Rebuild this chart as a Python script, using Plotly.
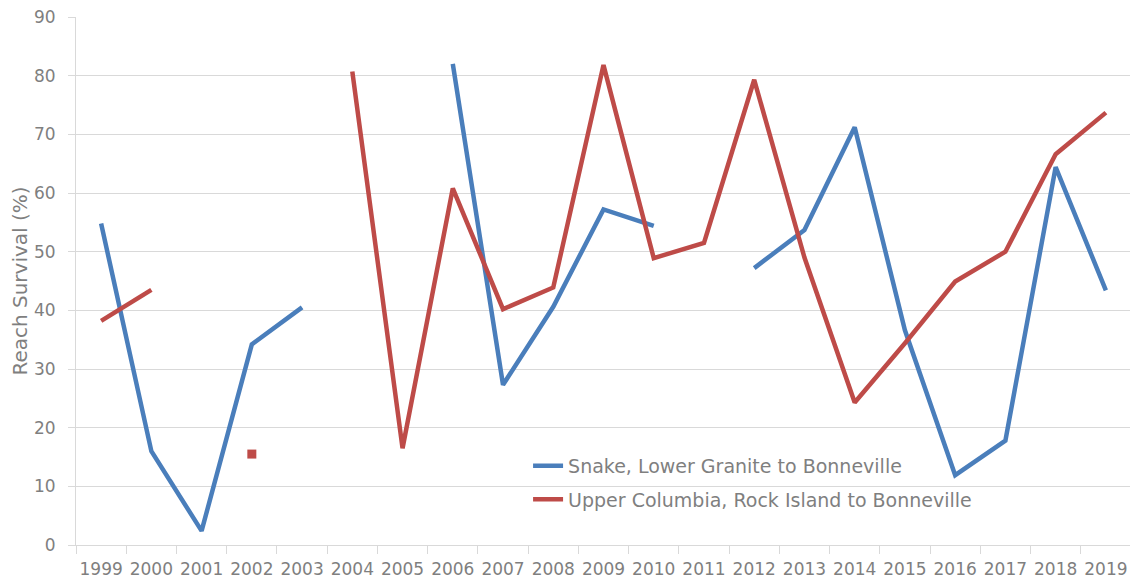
import plotly.graph_objects as go

years = [str(y) for y in range(1999, 2020)]
snake = [54.8, 16.0, 2.4, 34.2, 40.5, None, None, 82.0, 27.3, 40.6, 57.2, 54.4,
         None, 47.2, 53.7, 71.2, 36.6, 11.9, 17.8, 64.4, 43.4]
upper_col = [38.2, 43.5, None, 15.5, None, 80.7, 16.5, 60.8, 40.2, 43.9, 81.8, 48.9,
             51.5, 79.3, 49.0, 24.3, 34.4, 44.9, 50.0, 66.6, 73.7]
names = ["Snake, Lower Granite to Bonneville",
         "Upper Columbia, Rock Island to Bonneville"]
colors = ["#4a7ebb", "#be4b48"]

def isolated(vals):
    out = []
    for i, v in enumerate(vals):
        prev_none = i == 0 or vals[i - 1] is None
        next_none = i == len(vals) - 1 or vals[i + 1] is None
        out.append(v if (v is not None and prev_none and next_none) else None)
    return out

fig = go.Figure()
for k, (vals, name, col) in enumerate(zip([snake, upper_col], names, colors)):
    fig.add_trace(go.Scatter(x=years, y=vals, name=name, mode="lines",
                             line=dict(color=col, width=4.5), connectgaps=False,
                             legendgroup=str(k)))
    iso = isolated(vals)
    if any(v is not None for v in iso):
        fig.add_trace(go.Scatter(x=years, y=iso, mode="markers", showlegend=False,
                                 marker=dict(symbol="square", size=9, color=col)))

grid = "#d9d9d9"
txt = "#7f7f7f"
fig.update_layout(
    width=1130, height=574,
    margin=dict(l=68, r=7, t=9, b=37, autoexpand=False),
    paper_bgcolor="white", plot_bgcolor="white",
    font=dict(family="DejaVu Sans", color=txt, size=17),
    showlegend=True,
    legend=dict(x=0.4285, y=0.186, xanchor="left", yanchor="top",
                bgcolor="rgba(0,0,0,0)", font=dict(size=19, color=txt),
                tracegroupgap=6),
    xaxis=dict(type="category", categoryorder="array", categoryarray=years,
               range=[-0.5, 20.5], showgrid=False, showline=True, linecolor=grid,
               ticks="outside", tickson="boundaries", ticklen=8, tickcolor=grid,
               tickfont=dict(size=17, color=txt), ticklabelstandoff=9,
               tickangle=0, automargin=False, zeroline=False),
    yaxis=dict(range=[0, 90], dtick=10, showgrid=True, gridcolor=grid,
               showline=True, linecolor=grid, ticks="outside", ticklen=7,
               tickcolor=grid, tickfont=dict(size=17, color=txt),
               ticklabelstandoff=9, ticklabeloverflow="allow", automargin=False,
               zeroline=False,
               title=dict(text="Reach Survival (%)", font=dict(size=20, color=txt),
                          standoff=8)),
)
fig.write_html("out.html")
